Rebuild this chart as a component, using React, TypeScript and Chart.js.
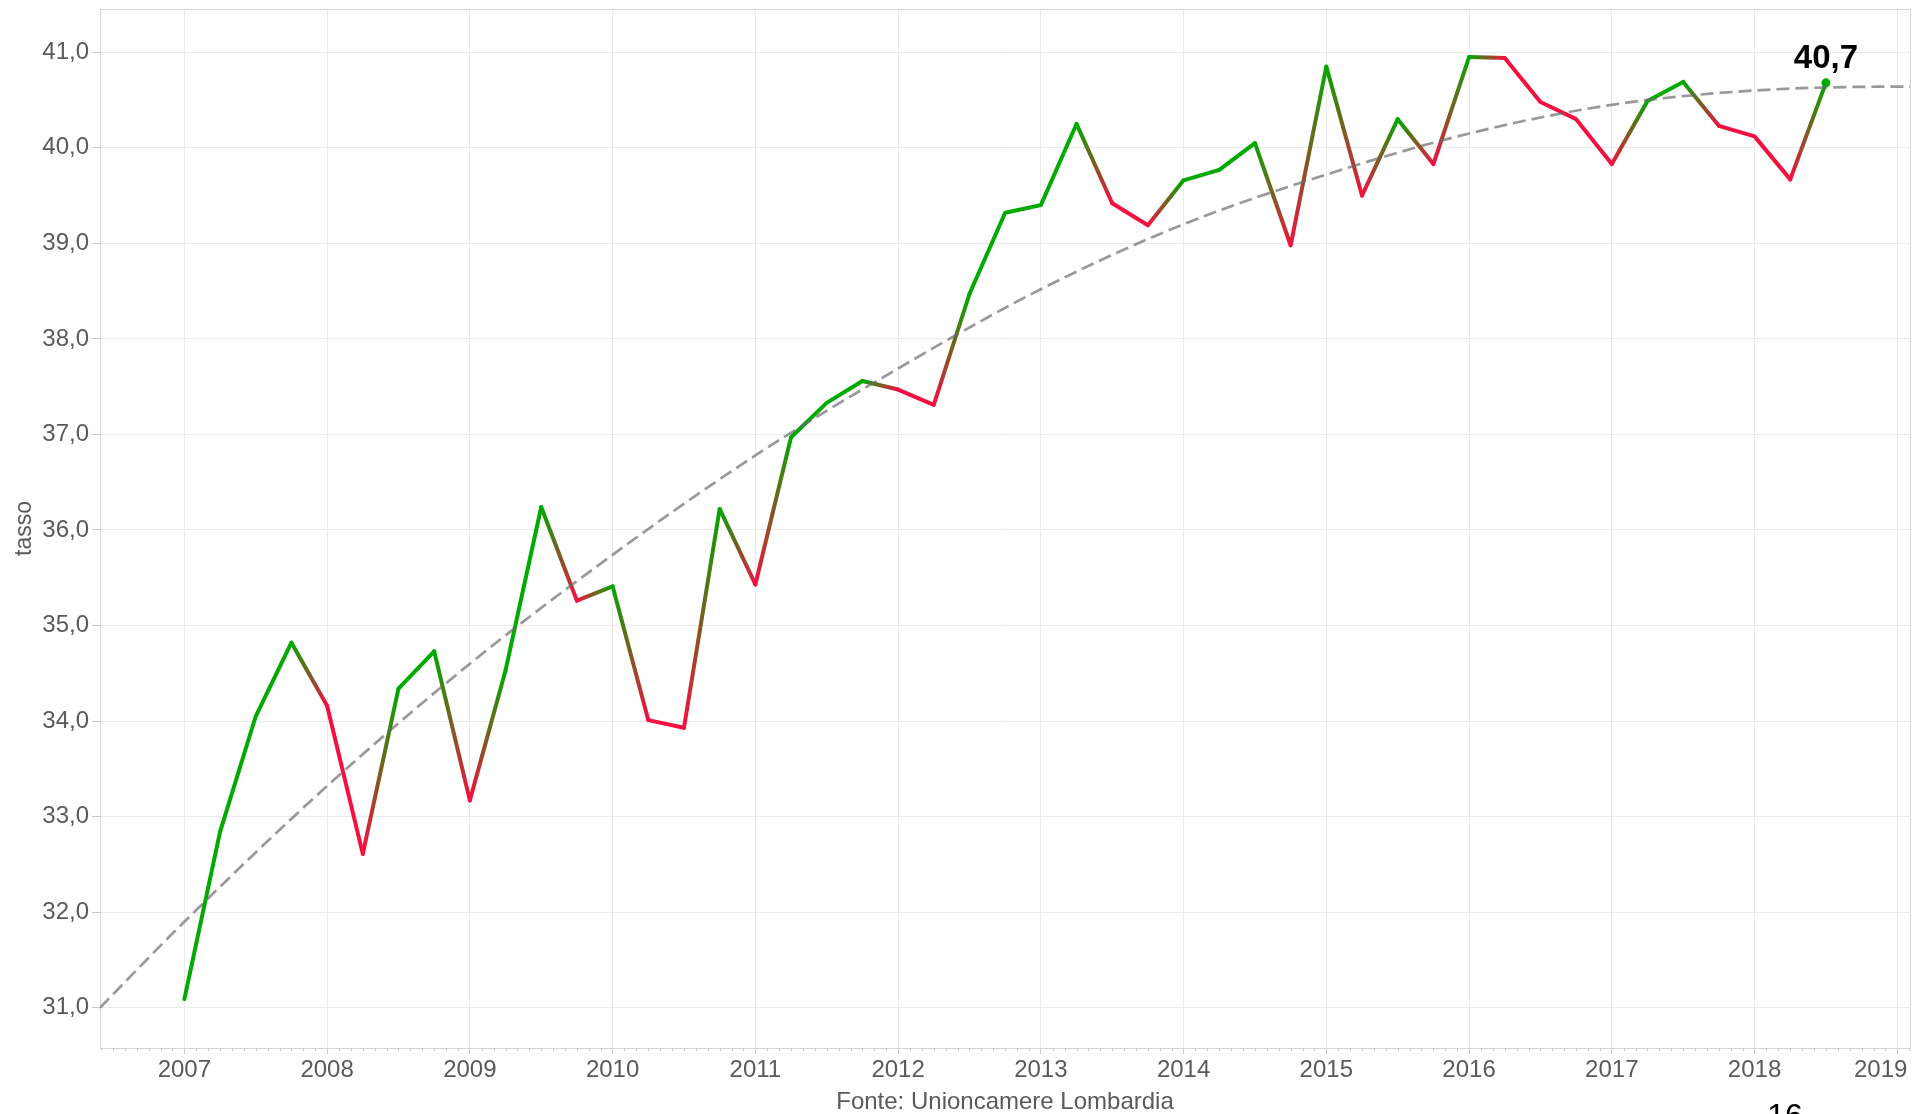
import React, { useEffect, useRef } from "react";
import { Chart, registerables } from "chart.js";

Chart.register(...registerables);

// ---- Data ----
const periodi = [
  "2007-T1", "2007-T2", "2007-T3", "2007-T4",
  "2008-T1", "2008-T2", "2008-T3", "2008-T4",
  "2009-T1", "2009-T2", "2009-T3", "2009-T4",
  "2010-T1", "2010-T2", "2010-T3", "2010-T4",
  "2011-T1", "2011-T2", "2011-T3", "2011-T4",
  "2012-T1", "2012-T2", "2012-T3", "2012-T4",
  "2013-T1", "2013-T2", "2013-T3", "2013-T4",
  "2014-T1", "2014-T2", "2014-T3", "2014-T4",
  "2015-T1", "2015-T2", "2015-T3", "2015-T4",
  "2016-T1", "2016-T2", "2016-T3", "2016-T4",
  "2017-T1", "2017-T2", "2017-T3", "2017-T4",
  "2018-T1", "2018-T2", "2018-T3",
];

const tasso = [
  31.09, 32.84, 34.05, 34.82, 34.16, 32.61, 34.34, 34.73, 33.17, 34.53,
  36.24, 35.26, 35.41, 34.01, 33.93, 36.22, 35.43, 36.97, 37.33, 37.56,
  37.47, 37.31, 38.47, 39.32, 39.40, 40.25, 39.42, 39.19, 39.66, 39.77,
  40.05, 38.98, 40.85, 39.50, 40.30, 39.83, 40.95, 40.94, 40.48, 40.30,
  39.83, 40.49, 40.69, 40.23, 40.12, 39.67, 40.68,
];

// polynomial trend line
const trendAnni = [2006.409, 2007, 2008, 2009, 2010, 2011, 2012, 2013, 2014, 2015, 2016, 2017, 2018, 2019, 2019.089];
const trendValori = [31.0, 31.9, 33.32, 34.6, 35.74, 36.78, 37.69, 38.52, 39.2, 39.72, 40.15, 40.45, 40.6, 40.64, 40.64];

const anniTick = [2007, 2008, 2009, 2010, 2011, 2012, 2013, 2014, 2015, 2016, 2017, 2018, 2019];
const valoriTick = [31, 32, 33, 34, 35, 36, 37, 38, 39, 40, 41];

const X_MIN = 2006.409;
const X_MAX = 2019.089;
const Y_MIN = 30.578;
const Y_MAX = 41.453;

const titoloY = "tasso";
const fonte = "Fonte: Unioncamere Lombardia";
const pagina = "16";

// ---- Styles ----
const GREEN = "#00aa00";
const RED = "#f5103f";
const FONT = '"Liberation Sans", Arial, sans-serif';
const TEXT = "#5a5a5a";
const GRID = "#ebebeb";
const BORDER = "#d6d6d6";

const periodoToX = (p: string) => {
  const [y, q] = p.split("-T");
  return Number(y) + (Number(q) - 1) / 4;
};

const colorAt = (i: number) => (i === 0 || tasso[i] >= tasso[i - 1] ? GREEN : RED);

const formatIt = (v: number) => v.toFixed(1).replace(".", ",");

export default function App() {
  const ref = useRef<HTMLCanvasElement | null>(null);

  useEffect(() => {
    document.body.style.margin = "0";
    document.body.style.overflow = "hidden";
    const canvas = ref.current;
    if (!canvas) return;

    const last = tasso.length - 1;

    const boxPlugin = {
      id: "boxPlugin",
      afterDraw(chart: any) {
        const { ctx, chartArea } = chart;
        const xs = chart.scales.x;
        ctx.save();
        ctx.strokeStyle = BORDER;
        ctx.lineWidth = 1;
        ctx.beginPath();
        ctx.moveTo(chartArea.left, Math.round(chartArea.top) + 0.5);
        ctx.lineTo(chartArea.right, Math.round(chartArea.top) + 0.5);
        ctx.moveTo(Math.round(chartArea.right) + 0.5, chartArea.top);
        ctx.lineTo(Math.round(chartArea.right) + 0.5, chartArea.bottom);
        ctx.stroke();
        // monthly minor ticks
        ctx.strokeStyle = "#c8c8c8";
        ctx.beginPath();
        const b = Math.round(chartArea.bottom);
        for (let m = Math.ceil(X_MIN * 12); m <= Math.floor(X_MAX * 12); m++) {
          if (m % 12 === 0) continue;
          const px = Math.round(xs.getPixelForValue(m / 12)) + 0.5;
          ctx.moveTo(px, b);
          ctx.lineTo(px, b + 3);
        }
        ctx.stroke();
        // page number, cut by the bottom edge
        ctx.fillStyle = "#000";
        ctx.font = `32px ${FONT}`;
        ctx.textAlign = "center";
        ctx.textBaseline = "alphabetic";
        ctx.fillText(pagina, 1785, 1126);
        ctx.restore();
      },
    };

    const labelPlugin = {
      id: "labelPlugin",
      afterDatasetsDraw(chart: any) {
        const meta = chart.getDatasetMeta(1);
        const pt = meta.data[last];
        if (!pt) return;
        const { ctx } = chart;
        ctx.save();
        ctx.fillStyle = "#000";
        ctx.font = `bold 33px ${FONT}`;
        ctx.textAlign = "center";
        ctx.textBaseline = "alphabetic";
        ctx.fillText(formatIt(tasso[last]), pt.x, pt.y - 14.5);
        ctx.restore();
      },
    };

    const chart = new Chart(canvas, {
      type: "line",
      data: {
        datasets: [
          {
            label: "trend",
            data: trendAnni.map((x, i) => ({ x, y: trendValori[i] })),
            borderColor: "rgba(105,105,105,0.68)",
            borderWidth: 2.7,
            borderDash: [13, 6],
            pointRadius: 0,
            cubicInterpolationMode: "monotone",
            fill: false,
          },
          {
            label: "tasso",
            data: periodi.map((p, i) => ({ x: periodoToX(p), y: tasso[i] })),
            borderColor: GREEN,
            borderWidth: 4,
            borderCapStyle: "round",
            borderJoinStyle: "round",
            fill: false,
            pointRadius: (c: any) => (c.dataIndex === last ? 4.5 : 0),
            pointBackgroundColor: GREEN,
            pointBorderWidth: 0,
            pointHoverRadius: 0,
            segment: {
              borderColor: (c: any) => {
                const c0 = colorAt(c.p0DataIndex);
                const c1 = colorAt(c.p1DataIndex);
                if (c0 === c1) return c0;
                const g: any = c.chart.ctx.createLinearGradient(c.p0.x, c.p0.y, c.p1.x, c.p1.y);
                g.addColorStop(0, c0);
                g.addColorStop(1, c1);
                g.segIndex = c.p0DataIndex;
                return g;
              },
            },
          },
        ],
      },
      options: {
        responsive: false,
        animation: false,
        events: [],
        layout: { padding: { left: 0, top: 9, right: 5, bottom: 0 } },
        plugins: {
          legend: { display: false },
          tooltip: { enabled: false },
        },
        scales: {
          x: {
            type: "linear",
            min: X_MIN,
            max: X_MAX,
            afterBuildTicks: (s: any) => {
              s.ticks = anniTick.map((v) => ({ value: v }));
            },
            afterFit: (s: any) => {
              s.height = 66;
              s.paddingLeft = 0;
              s.paddingRight = 0;
            },
            grid: {
              color: GRID,
              lineWidth: 1,
              drawTicks: true,
              tickLength: 6,
              tickColor: "#c8c8c8",
            },
            border: { display: true, color: BORDER, width: 1 },
            ticks: {
              autoSkip: false,
              maxRotation: 0,
              minRotation: 0,
              padding: 2,
              color: TEXT,
              font: { family: FONT, size: 24 },
              callback: (v: any) => {
                const n = Number(v);
                return n === anniTick[anniTick.length - 1] ? String(n) + "     " : String(n);
              },
            },
            title: {
              display: true,
              text: fonte,
              color: TEXT,
              font: { family: FONT, size: 24, lineHeight: 1.0 },
              padding: 0,
            },
          },
          y: {
            type: "linear",
            min: Y_MIN,
            max: Y_MAX,
            afterBuildTicks: (s: any) => {
              s.ticks = valoriTick.map((v) => ({ value: v }));
            },
            afterFit: (s: any) => {
              s.width = 100;
              s.paddingTop = 0;
              s.paddingBottom = 0;
            },
            grid: {
              color: GRID,
              lineWidth: 1,
              drawTicks: true,
              tickLength: 8,
              tickColor: "#c8c8c8",
            },
            border: { display: true, color: BORDER, width: 1 },
            ticks: {
              padding: 3,
              color: TEXT,
              font: { family: FONT, size: 24 },
              callback: (v: any) => formatIt(Number(v)),
            },
            title: {
              display: true,
              text: titoloY,
              color: TEXT,
              font: { family: FONT, size: 23, lineHeight: 1.2 },
              padding: { top: 11, bottom: 0 },
            },
          },
        },
      },
      plugins: [boxPlugin, labelPlugin],
    } as any);

    return () => {
      chart.destroy();
    };
  }, []);

  return (
    <div style={{ position: "absolute", left: 0, top: 0, width: 1915, height: 1114, background: "#fff" }}>
      <canvas ref={ref} width={1915} height={1114} style={{ display: "block", width: 1915, height: 1114 }} />
    </div>
  );
}
